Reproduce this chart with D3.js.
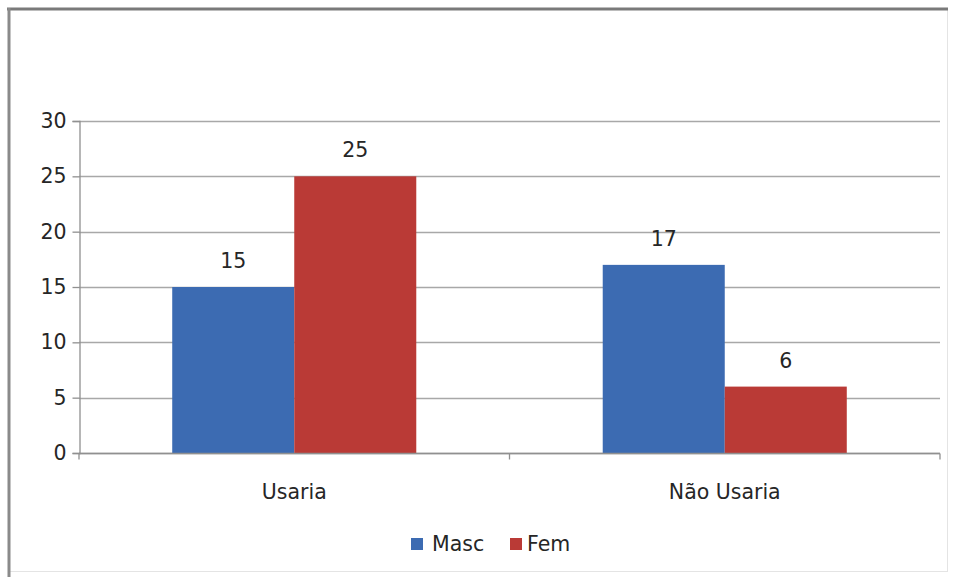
<!DOCTYPE html>
<html>
<head>
<meta charset="utf-8">
<script src="https://cdn.jsdelivr.net/npm/d3@7"></script>
<style>
  html, body { margin: 0; padding: 0; background: #ffffff; }
  svg { display: block; }
  text { font-family: "DejaVu Sans", sans-serif; fill: #262626; }
</style>
</head>
<body>
<svg id="chart" width="957" height="577"></svg>
<script>
const categories = ["Usaria", "Não Usaria"];
const seriesNames = ["Masc", "Fem"];
const mascValues = [15, 17];
const femValues = [25, 6];
const yTicks = [0, 5, 10, 15, 20, 25, 30];
const seriesColors = ["#3C6BB2", "#BA3A36"];

(function () {
const FS = 20.5;
const data = categories.map((c, i) => ({
  category: c,
  values: [
    { series: seriesNames[0], value: mascValues[i] },
    { series: seriesNames[1], value: femValues[i] }
  ]
}));

const svg = d3.select("#chart");

// frame
svg.append("rect").attr("x", 8.5).attr("y", 9.5).attr("width", 939).attr("height", 562)
  .attr("fill", "#fff").attr("stroke", "#e4e4e4").attr("stroke-width", 1);
svg.append("line").attr("x1", 7).attr("x2", 948).attr("y1", 9).attr("y2", 9)
  .attr("stroke", "#7a7a7a").attr("stroke-width", 3);
svg.append("line").attr("x1", 9).attr("x2", 9).attr("y1", 8).attr("y2", 577)
  .attr("stroke", "#8a8a8a").attr("stroke-width", 3);

const pLeft = 79, pRight = 940, pTop = 121, pBottom = 453;

const x = d3.scaleBand().domain(categories).range([pLeft, pRight]).paddingInner(0).paddingOuter(0);
const x1 = d3.scaleBand().domain(seriesNames).range([0, x.bandwidth()]).paddingInner(0).paddingOuter(0.764);
const y = d3.scaleLinear().domain([0, 30]).range([pBottom, pTop]);
const color = d3.scaleOrdinal().domain(seriesNames).range(seriesColors);

// gridlines
svg.append("g").selectAll("line").data(yTicks).join("line")
  .attr("x1", pLeft).attr("x2", pRight)
  .attr("y1", d => Math.round(y(d)) + 0.5).attr("y2", d => Math.round(y(d)) + 0.5)
  .attr("stroke", "#a8a8a8").attr("stroke-width", 1.3);

// y axis
const yAxis = svg.append("g").attr("transform", `translate(${pLeft + 0.5},0)`)
  .call(d3.axisLeft(y).tickValues(yTicks).tickSize(7).tickPadding(6).tickFormat(d3.format("d")));
yAxis.select(".domain").attr("stroke", "#909090").attr("stroke-width", 1.3);
yAxis.selectAll(".tick line").attr("stroke", "#909090").attr("stroke-width", 1.3);
yAxis.selectAll(".tick text").attr("font-size", FS).attr("fill", "#262626")
  .style("font-family", "'DejaVu Sans', sans-serif");

// bars
const groups = svg.append("g").selectAll("g").data(data).join("g")
  .attr("transform", d => `translate(${x(d.category)},0)`);
groups.selectAll("rect").data(d => d.values).join("rect")
  .attr("x", d => x1(d.series))
  .attr("width", x1.bandwidth())
  .attr("y", d => y(d.value))
  .attr("height", d => y(0) - y(d.value))
  .attr("fill", d => color(d.series));

// value labels
groups.selectAll("text.val").data(d => d.values).join("text")
  .attr("class", "val")
  .attr("x", d => x1(d.series) + x1.bandwidth() / 2)
  .attr("y", d => y(d.value) - 19)
  .attr("text-anchor", "middle")
  .attr("font-size", FS)
  .text(d => d.value);

// x axis
const xAxisG = svg.append("g").attr("transform", `translate(0,${pBottom + 0.5})`);
xAxisG.append("line").attr("x1", pLeft).attr("x2", pRight).attr("y1", 0).attr("y2", 0)
  .attr("stroke", "#909090").attr("stroke-width", 1.3);
const boundaries = [x.range()[0]].concat(categories.map(c => x(c) + x.bandwidth()));
xAxisG.selectAll("line.tk").data(boundaries).join("line").attr("class", "tk")
  .attr("x1", d => d).attr("x2", d => d).attr("y1", 0).attr("y2", 6)
  .attr("stroke", "#909090").attr("stroke-width", 1.3);
xAxisG.selectAll("text").data(categories).join("text")
  .attr("x", d => x(d) + x.bandwidth() / 2)
  .attr("y", 45)
  .attr("text-anchor", "middle")
  .attr("font-size", FS)
  .text(d => d);

// legend
const legendItems = [
  { name: seriesNames[0], sx: 411, tx: 432 },
  { name: seriesNames[1], sx: 510, tx: 527 }
];
const legend = svg.append("g");
legend.selectAll("rect").data(legendItems).join("rect")
  .attr("x", d => d.sx).attr("y", 538).attr("width", 12).attr("height", 12)
  .attr("fill", d => color(d.name));
legend.selectAll("text").data(legendItems).join("text")
  .attr("x", d => d.tx).attr("y", 551)
  .attr("font-size", FS)
  .text(d => d.name);
})();
</script>
</body>
</html>
